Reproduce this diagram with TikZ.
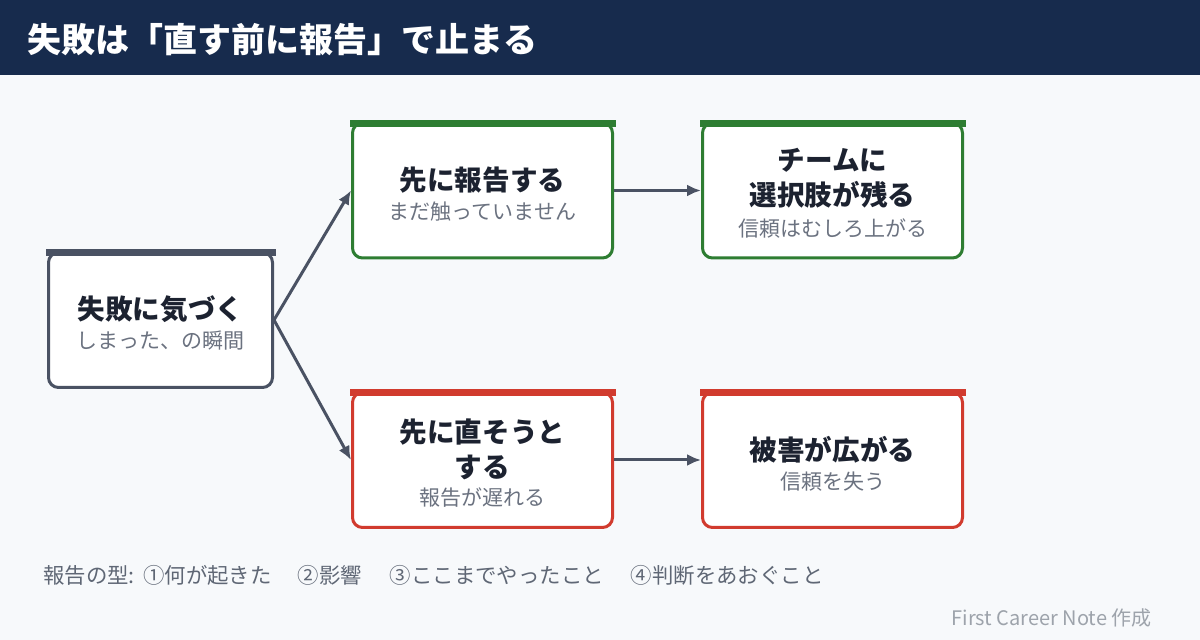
\documentclass[tikz,border=0pt]{standalone}
\usepackage{fontspec}
\setmainfont{Noto Sans CJK JP}
\usetikzlibrary{arrows.meta,calc}
\definecolor{navy}{HTML}{172B4D}
\definecolor{bgc}{HTML}{F7F9FB}
\definecolor{slate}{HTML}{4A5263}
\definecolor{okgreen}{HTML}{2E7D32}
\definecolor{ngred}{HTML}{D13B2E}
\definecolor{ink}{HTML}{1C2230}
\definecolor{subgray}{HTML}{6B7280}
\definecolor{footgray}{HTML}{5F6775}
\definecolor{credgray}{HTML}{9DA3AB}
\tikzset{
  flowbox/.style={draw=#1, line width=1.5pt, fill=white, rounded corners=5pt,
    minimum width=130pt, minimum height=67.5pt, inner sep=0pt},
  ttl/.style={text=ink, font=\fontsize{13.8pt}{16.5pt}\selectfont\bfseries, align=center, inner sep=0pt},
  sub/.style={text=subgray, font=\fontsize{10.5pt}{12pt}\selectfont, inner sep=0pt},
  conn/.style={draw=slate, line width=1.5pt, -{Latex[length=7pt,width=6pt]}},
}
\begin{document}
\begin{tikzpicture}[x=0.5pt,y=-0.5pt]
\useasboundingbox (0,0) rectangle (1200,640);
\fill[bgc] (0,0) rectangle (1200,640);
\fill[navy] (0,0) rectangle (1200,75);
\node[anchor=west, text=white, inner sep=0pt, font=\fontsize{17pt}{19pt}\selectfont\bfseries] (title) at (27,40) {失敗は「直す前に報告」で止まる};

% boxes
\node[flowbox=slate, minimum width=112pt] (start) at (160.5,320) {};
\node[flowbox=okgreen] (report) at (482.5,190.5) {};
\node[flowbox=okgreen] (options) at (832.5,190.5) {};
\node[flowbox=ngred] (fix) at (482.5,460) {};
\node[flowbox=ngred] (damage) at (832.5,460) {};
\foreach \n/\c in {start/slate,report/okgreen,options/okgreen,fix/ngred,damage/ngred}{
  \fill[\c] ([xshift=-0.75pt,yshift=0.75pt]\n.north west) rectangle ([xshift=0.75pt,yshift=-2.75pt]\n.north east);
}

% texts
\node[ttl] (startT) at (160.5,309) {失敗に気づく};
\node[sub] (startS) at (160.5,341) {しまった、の瞬間};
\node[ttl] (reportT) at (482.5,180) {先に報告する};
\node[sub] (reportS) at (482.5,212) {まだ触っていません};
\node[ttl] (optionsT) at (832.5,178.5) {チームに\\[1pt]選択肢が残る};
\node[sub] (optionsS) at (832.5,229) {信頼はむしろ上がる};
\node[ttl] (fixT) at (482.5,449.5) {先に直そうと\\[1pt]する};
\node[sub] (fixS) at (482.5,498) {報告が遅れる};
\node[ttl] (damageT) at (832.5,450) {被害が広がる};
\node[sub] (damageS) at (832.5,482) {信頼を失う};

% connectors
\draw[conn] (start.east) -- (report.west);
\draw[conn] (start.east) -- (fix.west);
\draw[conn] (report.east) -- (options.west);
\draw[conn] (fix.east) -- (damage.west);

% footer
\node[anchor=west, text=footgray, inner sep=0pt, font=\fontsize{10.7pt}{12pt}\selectfont] (foot) at (43,575)
  {報告の型:\hspace{1pt} ①何が起きた\hspace{13pt}②影響\hspace{14pt}③ここまでやったこと\hspace{13.5pt}④判断をあおぐこと};
\node[anchor=east, text=credgray, inner sep=0pt, font=\fontsize{10pt}{12pt}\selectfont] (credit) at (1152,618) {First Career Note 作成};
\end{tikzpicture}
\end{document}
